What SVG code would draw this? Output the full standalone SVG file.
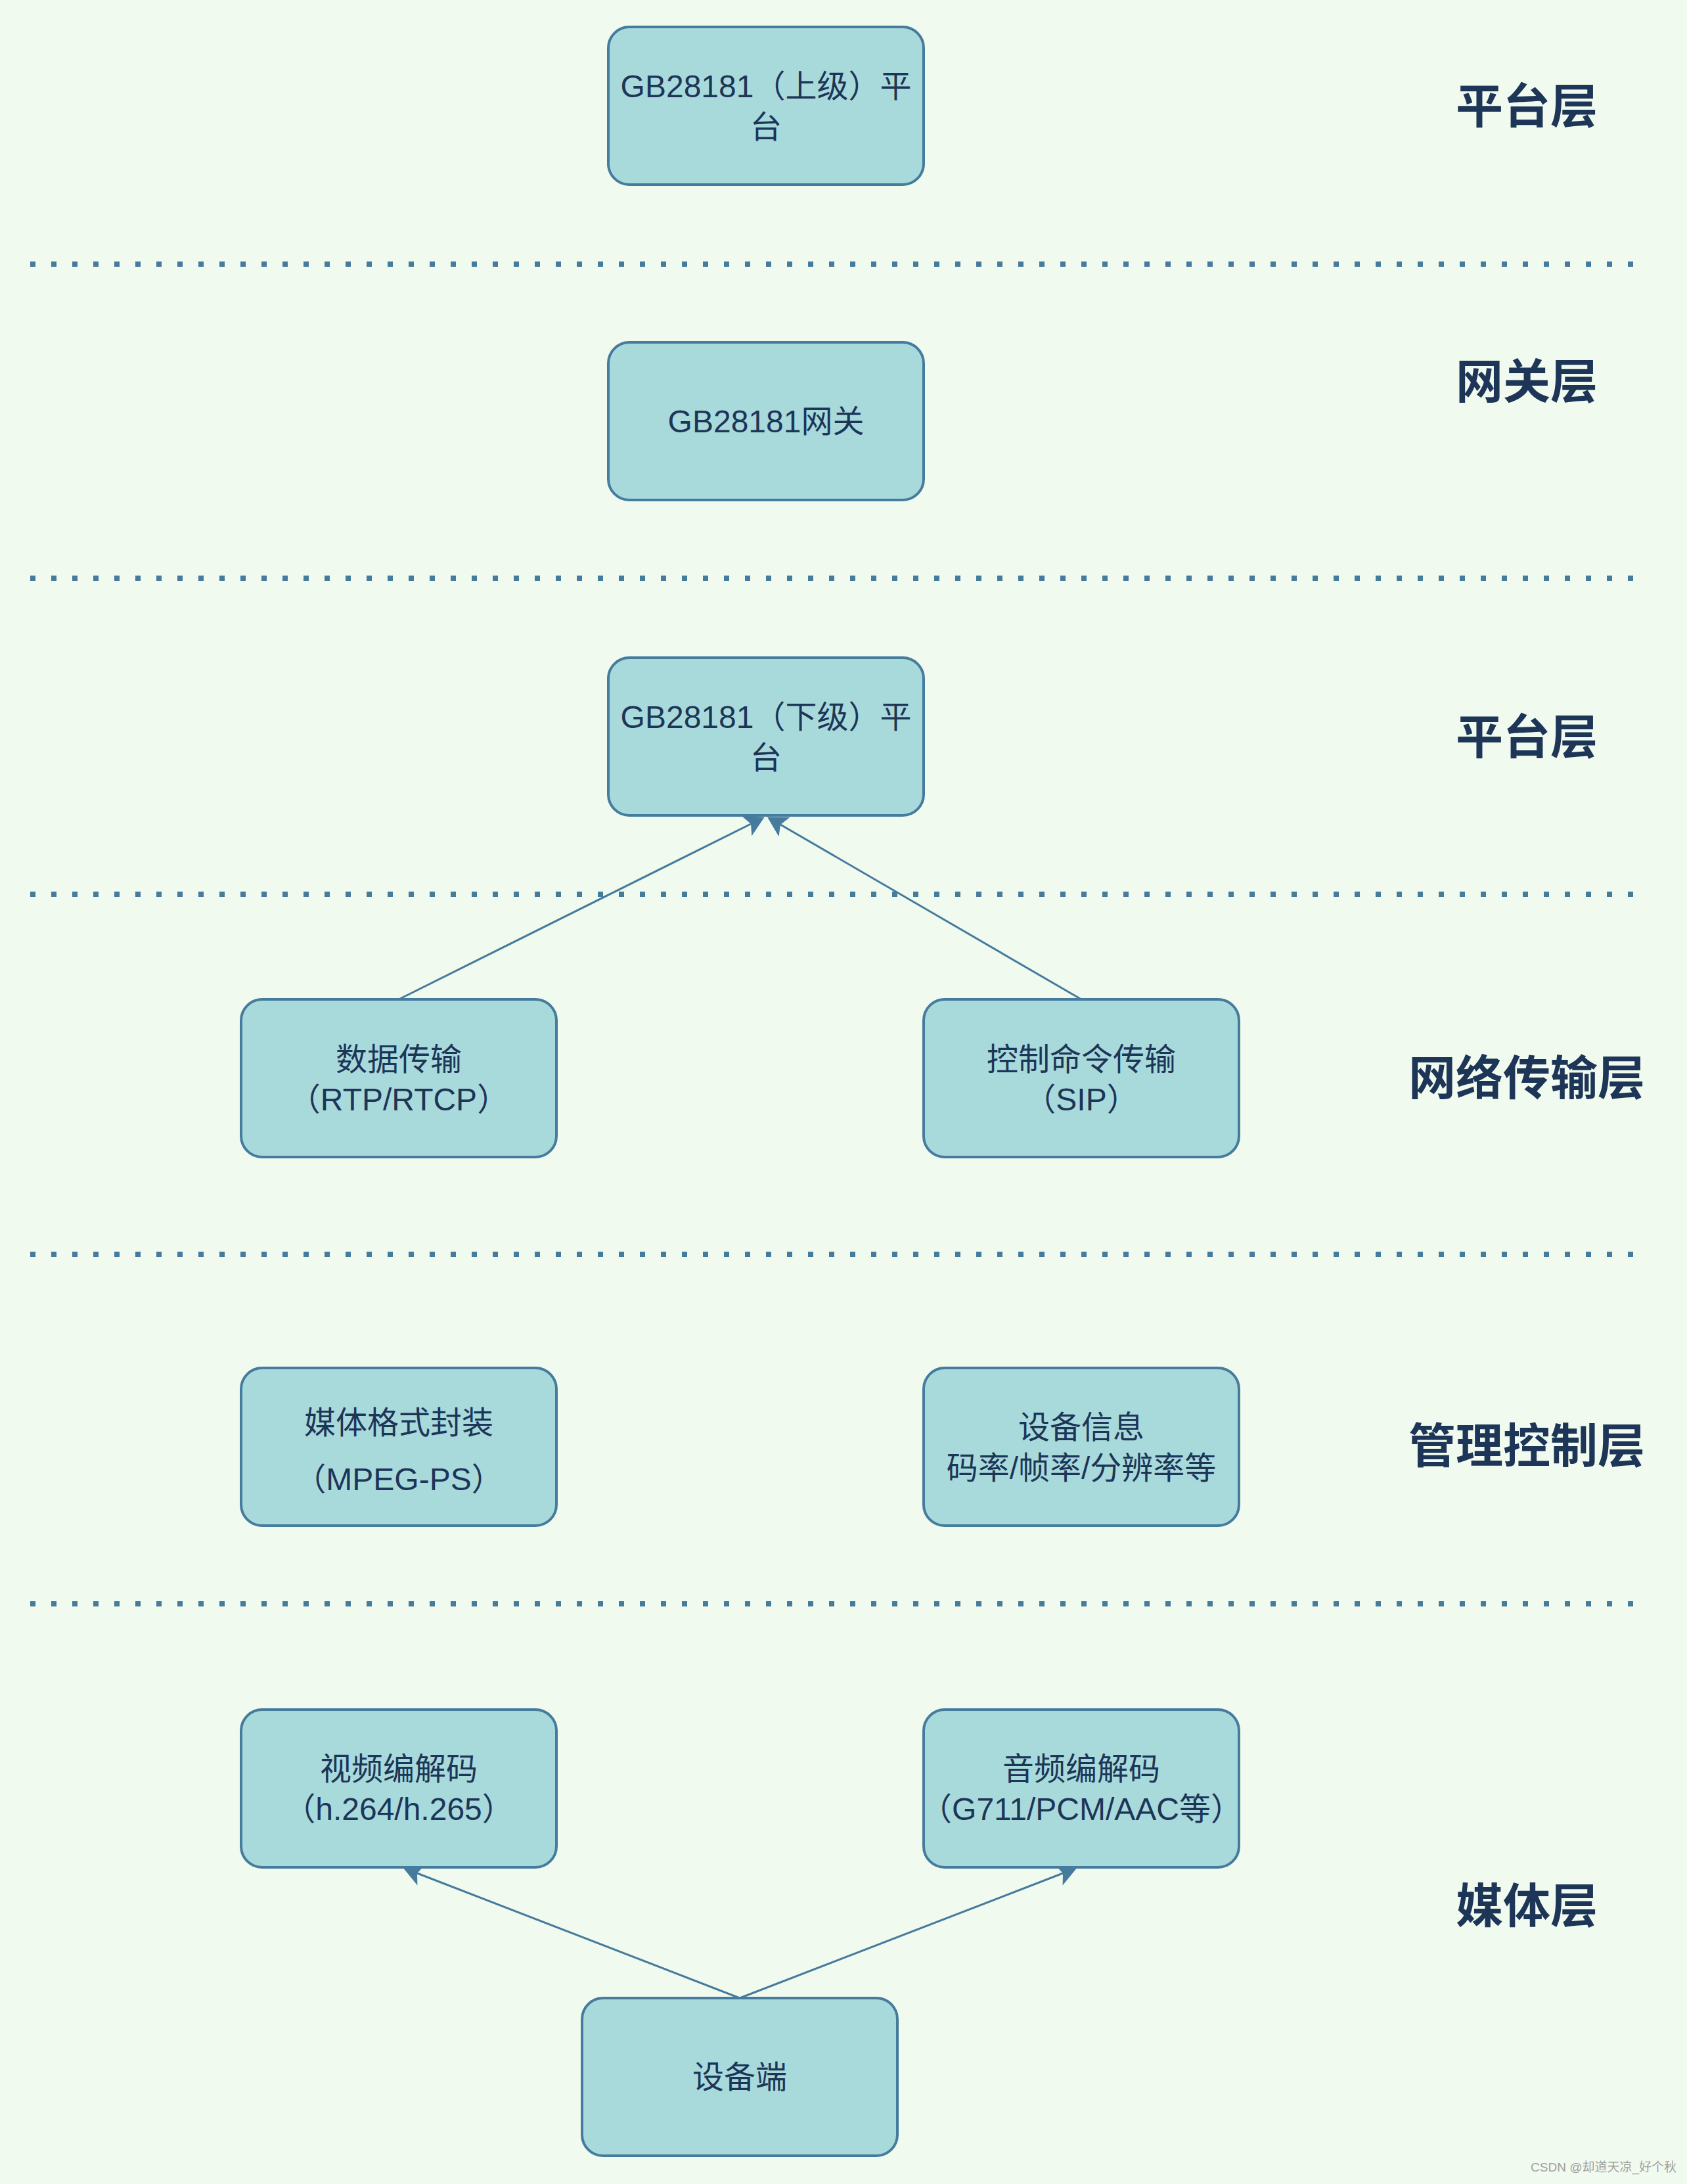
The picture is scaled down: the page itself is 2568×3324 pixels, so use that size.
<svg xmlns="http://www.w3.org/2000/svg" width="2568" height="3324" viewBox="0 0 2568 3324">
<style>
.bg{fill:#F1FAEE}
.node rect{fill:#A8DADC;stroke:#457B9D;stroke-width:4}
.node text{font-family:"Liberation Sans","Noto Sans CJK SC",sans-serif;font-size:48px;fill:#1D3557;text-anchor:middle}
.layer{font-family:"Noto Sans CJK SC",sans-serif;font-size:72px;font-weight:bold;fill:#1D3557;text-anchor:middle}
.sep{stroke:#457B9D;stroke-width:8;stroke-dasharray:8 24;fill:none}
.edge{stroke:#457B9D;stroke-width:3;fill:none;marker-end:url(#arrow)}
.wm{font-family:"Liberation Sans","Noto Sans CJK SC",sans-serif;font-size:19px;fill:#A0A0A0;text-anchor:end}
</style>
<defs>
<marker id="arrow" markerUnits="userSpaceOnUse" markerWidth="32" markerHeight="36" viewBox="0 0 32 36" refX="8" refY="18" orient="auto">
<path d="M1,1 L31,18 L1,35 L8,18 Z" fill="#457B9D"/>
</marker>
</defs>
<rect class="bg" x="0" y="0" width="2568" height="3324"/>

<g id="separators">
<path class="sep" d="M46,402 H2486"/>
<path class="sep" d="M46,880 H2486"/>
<path class="sep" d="M46,1361 H2486"/>
<path class="sep" d="M46,1909 H2486"/>
<path class="sep" d="M46,2441 H2486"/>
</g>

<g id="layers">
<text class="layer" x="2324" y="187">平台层</text>
<text class="layer" x="2324" y="606">网关层</text>
<text class="layer" x="2324" y="1147">平台层</text>
<text class="layer" x="2324" y="1666">网络传输层</text>
<text class="layer" x="2324" y="2226">管理控制层</text>
<text class="layer" x="2324" y="2926">媒体层</text>
</g>

<g id="connectors">
<path class="edge" d="M607,1521 L1143,1254"/>
<path class="edge" d="M1646,1521 L1188,1255"/>
<path class="edge" d="M1126,3041 L635,2851"/>
<path class="edge" d="M1126,3041 L1618,2851"/>
</g>

<g id="node-upper-platform" class="node">
<rect x="926" y="41" width="480" height="240" rx="32"/>
<text x="1166" y="148">GB28181（上级）平</text>
<text x="1166" y="210">台</text>
</g>
<g id="node-gateway" class="node">
<rect x="926" y="521" width="480" height="240" rx="32"/>
<text x="1166" y="658">GB28181网关</text>
</g>
<g id="node-lower-platform" class="node">
<rect x="926" y="1001" width="480" height="240" rx="32"/>
<text x="1166" y="1108">GB28181（下级）平</text>
<text x="1166" y="1170">台</text>
</g>
<g id="node-data" class="node">
<rect x="367" y="1521" width="480" height="240" rx="32"/>
<text x="607" y="1629">数据传输</text>
<text x="607" y="1690">（RTP/RTCP）</text>
</g>
<g id="node-control" class="node">
<rect x="1406" y="1521" width="480" height="240" rx="32"/>
<text x="1646" y="1629">控制命令传输</text>
<text x="1646" y="1690">（SIP）</text>
</g>
<g id="node-format" class="node">
<rect x="367" y="2082" width="480" height="240" rx="32"/>
<text x="607" y="2182">媒体格式封装</text>
<text x="607" y="2268">（MPEG-PS）</text>
</g>
<g id="node-devinfo" class="node">
<rect x="1406" y="2082" width="480" height="240" rx="32"/>
<text x="1646" y="2189">设备信息</text>
<text x="1646" y="2251">码率/帧率/分辨率等</text>
</g>
<g id="node-video" class="node">
<rect x="367" y="2602" width="480" height="240" rx="32"/>
<text x="607" y="2709">视频编解码</text>
<text x="607" y="2770">（h.264/h.265）</text>
</g>
<g id="node-audio" class="node">
<rect x="1406" y="2602" width="480" height="240" rx="32"/>
<text x="1646" y="2709">音频编解码</text>
<text x="1646" y="2770">（G711/PCM/AAC等）</text>
</g>
<g id="node-device" class="node">
<rect x="886" y="3041" width="480" height="240" rx="32"/>
<text x="1126" y="3178">设备端</text>
</g>

<text class="wm" x="2552" y="3305">CSDN @却道天凉_好个秋</text>
</svg>
